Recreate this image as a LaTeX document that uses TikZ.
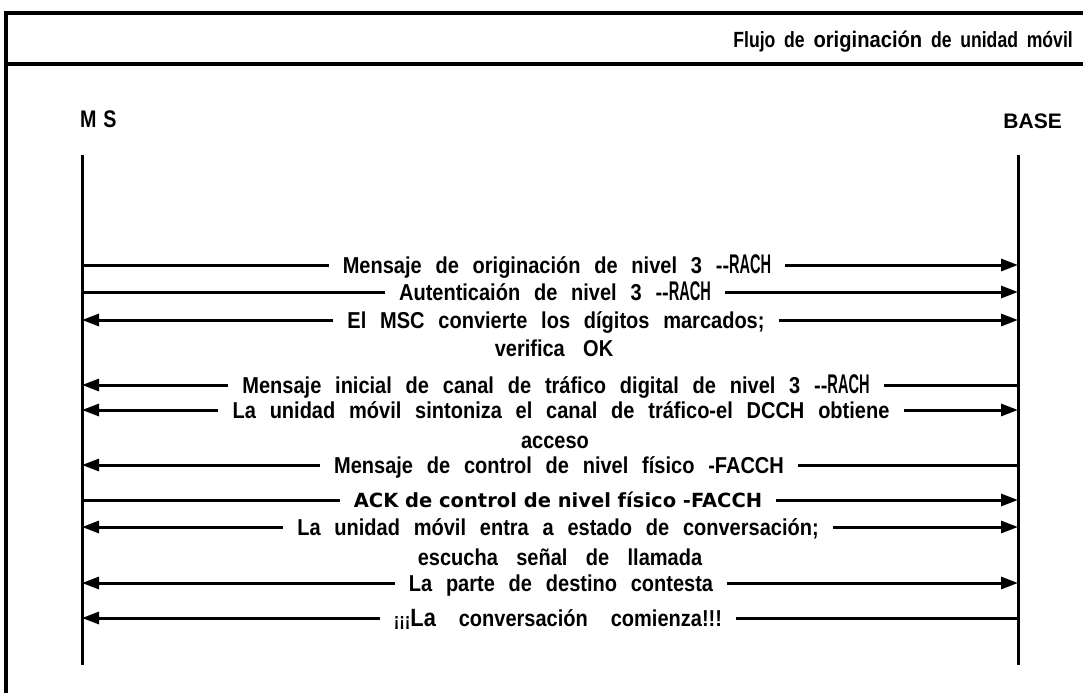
\documentclass[tikz,border=0pt]{standalone}
\usepackage{fontspec}
\setmainfont{Liberation Sans}
\newfontfamily\narrow{Liberation Sans}[FakeStretch=0.87]
\newfontfamily\narrowt{Liberation Sans}[FakeStretch=0.8]
\newfontfamily\wideb{DejaVu Sans}
\usetikzlibrary{arrows.meta}
\newcommand{\rach}{\scalebox{0.62}[1]{\fontsize{27}{28}\selectfont RACH}}
\newcommand{\wsp}[1]{\spaceskip=#1\relax}
\begin{document}
\begin{tikzpicture}[x=1pt,y=-1pt,
  frame/.style={line width=3.8pt},
  life/.style={line width=3pt},
  msgline/.style={line width=3pt},
  tipped/.style={line width=3pt,-{Triangle[length=17pt,width=12pt]}},
  msg/.style={font=\narrow\bfseries\fontsize{23}{26}\selectfont,
    inner xsep=14pt, inner ysep=0pt, text height=16.5pt, text depth=0pt, anchor=center},
  msgsub/.style={msg},
  ackmsg/.style={msg, font=\wideb\bfseries\fontsize{19.5}{22}\selectfont, text height=14pt},
  head/.style={inner sep=0pt, font=\bfseries\fontsize{21}{24}\selectfont}
]
\useasboundingbox (0,0) rectangle (1083,693);
% frame
\draw[frame] (6,693) -- (6,13) -- (1083,13);
\draw[frame] (6,64) -- (1083,64);
\node[anchor=base east, inner sep=0pt, font=\narrowt\bfseries\fontsize{22}{24}\selectfont] (title) at (1073,48)
  {\wsp{0.4em}Flujo de {\fontsize{22.5}{24}\selectfont\scalebox{1.12}[1]{originación}} de unidad móvil};
% participants
\node[head, anchor=base west] (ms) at (80,127) {\scalebox{0.82}[1]{\fontsize{24}{26}\selectfont\wsp{0.35em}M S}};
\node[head, anchor=base east] (base) at (1062,128) {BASE};
\coordinate (lt) at (82,155);
\coordinate (lb) at (82,665);
\coordinate (rt) at (1018,155);
\coordinate (rb) at (1018,665);
\draw[life] (lt) -- (lb);
\draw[life] (rt) -- (rb);
% lifeline anchors
\foreach \i/\y in {1/265,2/292,3/320,4/385,5/410,6/465,7/500,8/527,9/583,10/618}{
  \coordinate (L\i) at (82,\y);
  \coordinate (R\i) at (1018,\y);
}
% messages
\node[msg] (m1) at (557,265) {\wsp{0.6em}Mensaje de originación de nivel 3 -{}-\rach};
\draw[msgline] (L1) -- (m1.west);
\draw[tipped] (m1.east) -- (R1);

\node[msg] (m2) at (555,292) {\wsp{0.6em}Autenticaión de nivel 3 -{}-\rach};
\draw[msgline] (L2) -- (m2.west);
\draw[tipped] (m2.east) -- (R2);

\node[msg] (m3) at (556,320) {\wsp{0.6em}El MSC convierte los dígitos marcados;};
\draw[tipped] (m3.west) -- (L3);
\draw[tipped] (m3.east) -- (R3);
\node[msgsub] (m3b) at (554,348) {\wsp{0.8em}verifica OK};

\node[msg] (m4) at (556,385) {\wsp{0.6em}Mensaje inicial de canal de tráfico digital de nivel 3 -{}-\rach};
\draw[tipped] (m4.west) -- (L4);
\draw[msgline] (m4.east) -- (R4);

\node[msg] (m5) at (561,410) {\wsp{0.6em}La unidad móvil sintoniza el canal de tráfico-el DCCH obtiene};
\draw[tipped] (m5.west) -- (L5);
\draw[tipped] (m5.east) -- (R5);
\node[msgsub] (m5b) at (555,440) {acceso};

\node[msg] (m6) at (559,465) {\wsp{0.6em}Mensaje de control de nivel físico -FACCH};
\draw[tipped] (m6.west) -- (L6);
\draw[msgline] (m6.east) -- (R6);

\node[ackmsg] (m7) at (558,500) {ACK de control de nivel físico -FACCH};
\draw[msgline] (L7) -- (m7.west);
\draw[tipped] (m7.east) -- (R7);

\node[msg] (m8) at (558,527) {\wsp{0.6em}La unidad móvil entra a estado de conversación;};
\draw[tipped] (m8.west) -- (L8);
\draw[tipped] (m8.east) -- (R8);
\node[msgsub] (m8b) at (560,557) {\wsp{0.8em}escucha señal de llamada};

\node[msg] (m9) at (561,583) {\wsp{0.6em}La parte de destino contesta};
\draw[tipped] (m9.west) -- (L9);
\draw[tipped] (m9.east) -- (R9);

\node[msg] (m10) at (558,618)
  {\wsp{1em}{\fontsize{19}{20}\selectfont ¡¡¡}{\fontsize{25}{26}\selectfont La} conversación comienza!!!};
\draw[tipped] (m10.west) -- (L10);
\draw[msgline] (m10.east) -- (R10);
\end{tikzpicture}
\end{document}
